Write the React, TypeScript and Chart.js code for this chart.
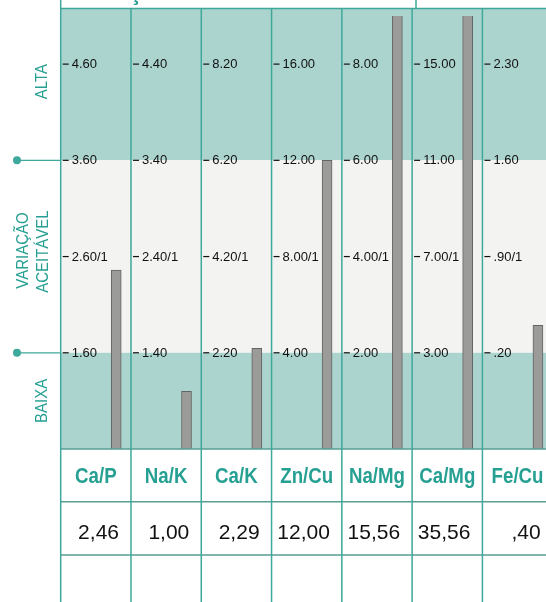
import React, { useEffect, useRef } from "react";
import { Chart, registerables } from "chart.js";

Chart.register(...registerables);

// ---- data ----
const ratios = ["Ca/P", "Na/K", "Ca/K", "Zn/Cu", "Na/Mg", "Ca/Mg", "Fe/Cu"];
const values = [2.46, 1.0, 2.29, 12.0, 15.56, 35.56, 0.4];
const highTicks = [4.6, 4.4, 8.2, 16.0, 8.0, 15.0, 2.3];
const upperTicks = [3.6, 3.4, 6.2, 12.0, 6.0, 11.0, 1.6];
const idealTicks = [2.6, 2.4, 4.2, 8.0, 4.0, 7.0, 0.9];
const lowerTicks = [1.6, 1.4, 2.2, 4.0, 2.0, 3.0, 0.2];
const zoneLabels = ["ALTA", "VARIAÇÃO|ACEITÁVEL", "BAIXA"];
const title = "RELAÇÕES SIGNIFICATIVAS";

// ---- styles ----
const TEAL_TEXT = "rgb(38,160,146)";
const TEAL_LINE = "rgb(62,168,155)";
const TABLE_LINE = "rgb(88,158,148)";
const BAND = "rgb(172,212,207)";
const MID = "rgb(243,243,241)";
const FONT = "'Liberation Sans', Arial, Helvetica, sans-serif";

const fmtTick = (v: number) => v.toFixed(2).replace(/^0\./, ".");
const fmtValue = (v: number) => v.toFixed(2).replace(/^0\./, ".").replace(".", ",");

function scaledText(
  ctx: CanvasRenderingContext2D,
  text: string,
  x: number,
  y: number,
  sx: number,
  align: CanvasTextAlign,
  rotate = 0
) {
  ctx.save();
  ctx.translate(x, y);
  if (rotate) ctx.rotate(rotate);
  ctx.scale(sx, 1);
  ctx.textAlign = align;
  ctx.fillText(text, 0, 0);
  ctx.restore();
}

const panelPlugin = {
  id: "panel",
  beforeDraw(chart: any) {
    const { ctx, chartArea, scales } = chart;
    const xs = scales.x;
    ctx.save();
    ctx.fillStyle = "#ffffff";
    ctx.fillRect(0, 0, chart.width, chart.height);
    const top = chartArea.top - 7;
    ratios.forEach((_, i) => {
      const ys = scales["y" + i];
      const xl = xs.getPixelForValue(i);
      const xr = xs.getPixelForValue(i + 1);
      const yU = ys.getPixelForValue(upperTicks[i]);
      const yL = ys.getPixelForValue(lowerTicks[i]);
      ctx.fillStyle = BAND;
      ctx.fillRect(xl, top, xr - xl, yU - top);
      ctx.fillStyle = MID;
      ctx.fillRect(xl, yU, xr - xl, yL - yU);
      ctx.fillStyle = BAND;
      ctx.fillRect(xl, yL, xr - xl, chartArea.bottom - yL);
    });
    ctx.restore();
  },
  afterDraw(chart: any) {
    const { ctx, chartArea, scales } = chart;
    const xs = scales.x;
    const top = chartArea.top - 7;
    const W = chart.width;
    const H = chart.height;
    const bottom = chartArea.bottom;
    const row1 = bottom + 52.7;
    const row2 = bottom + 106;
    ctx.save();

    // title strip (cropped at the top of the page)
    ctx.save();
    ctx.beginPath();
    ctx.rect(chartArea.left, 0, 416 - chartArea.left, top - 1);
    ctx.clip();
    ctx.fillStyle = TEAL_TEXT;
    ctx.font = `bold 22px ${FONT}`;
    ctx.textAlign = "left";
    ctx.textBaseline = "alphabetic";
    ctx.fillText(title, chartArea.left + 7, -0.5);
    ctx.restore();

    ctx.strokeStyle = TEAL_LINE;
    ctx.lineWidth = 1.5;
    ctx.beginPath();
    ctx.moveTo(chartArea.left, top - 0.5);
    ctx.lineTo(W, top - 0.5);
    ctx.moveTo(416, 0);
    ctx.lineTo(416, top);
    ctx.stroke();

    // table horizontal lines
    ctx.strokeStyle = TABLE_LINE;
    ctx.lineWidth = 1.5;
    ctx.beginPath();
    [bottom, row1, row2].forEach((y) => {
      ctx.moveTo(chartArea.left, y);
      ctx.lineTo(W, y);
    });
    ctx.stroke();

    // column lines
    ctx.strokeStyle = TEAL_LINE;
    ctx.lineWidth = 1.5;
    ctx.beginPath();
    for (let i = 0; i <= ratios.length; i++) {
      const x = xs.getPixelForValue(i);
      ctx.moveTo(x, i === 0 ? 0 : top);
      ctx.lineTo(x, H);
    }
    ctx.stroke();

    // tick labels per column
    ctx.fillStyle = "#111111";
    ctx.strokeStyle = "#111111";
    ctx.font = `13px ${FONT}`;
    ctx.textBaseline = "middle";
    ctx.textAlign = "left";
    ratios.forEach((_, i) => {
      const ys = scales["y" + i];
      const xl = xs.getPixelForValue(i);
      const ticks = [
        [highTicks[i], fmtTick(highTicks[i])],
        [upperTicks[i], fmtTick(upperTicks[i])],
        [idealTicks[i], fmtTick(idealTicks[i]) + "/1"],
        [lowerTicks[i], fmtTick(lowerTicks[i])],
      ] as [number, string][];
      ticks.forEach(([v, label]) => {
        const y = ys.getPixelForValue(v);
        ctx.lineWidth = 1.2;
        ctx.beginPath();
        ctx.moveTo(xl + 2, y);
        ctx.lineTo(xl + 8, y);
        ctx.stroke();
        ctx.fillText(label, xl + 11, y + 0.5);
      });
    });

    // table header and values
    ratios.forEach((r, i) => {
      const xl = xs.getPixelForValue(i);
      const xr = xs.getPixelForValue(i + 1);
      ctx.fillStyle = TEAL_TEXT;
      ctx.font = `bold 22px ${FONT}`;
      ctx.textBaseline = "middle";
      scaledText(ctx, r, (xl + xr) / 2, bottom + 28, 0.85, "center");
      ctx.fillStyle = "#111111";
      ctx.font = `21px ${FONT}`;
      scaledText(ctx, fmtValue(values[i]), xr - 12, bottom + 84, 1, "right");
    });

    // left zone labels and markers
    const ys0 = scales.y0;
    const yU = ys0.getPixelForValue(upperTicks[0]);
    const yL = ys0.getPixelForValue(lowerTicks[0]);
    ctx.strokeStyle = TEAL_LINE;
    ctx.fillStyle = TEAL_LINE;
    ctx.lineWidth = 1.2;
    [yU, yL].forEach((y) => {
      ctx.beginPath();
      ctx.moveTo(17, y);
      ctx.lineTo(chartArea.left, y);
      ctx.stroke();
      ctx.beginPath();
      ctx.arc(17, y, 4, 0, Math.PI * 2);
      ctx.fill();
    });
    ctx.fillStyle = TEAL_TEXT;
    ctx.font = `17px ${FONT}`;
    ctx.textBaseline = "middle";
    const rot = -Math.PI / 2;
    scaledText(ctx, zoneLabels[0], 42, (top + yU) / 2 - 3, 0.88, "center", rot);
    const [l1, l2] = zoneLabels[1].split("|");
    scaledText(ctx, l1, 23, (yU + yL) / 2 - 6, 0.88, "center", rot);
    scaledText(ctx, l2, 43, (yU + yL) / 2 - 5, 0.88, "center", rot);
    scaledText(ctx, zoneLabels[2], 42, (yL + bottom) / 2, 0.88, "center", rot);

    ctx.restore();
  },
};

export default function App() {
  const ref = useRef<HTMLCanvasElement>(null);
  useEffect(() => {
    if (!ref.current) return;
    const steps = idealTicks.map((v, i) => v - lowerTicks[i]);
    const scales: any = {
      x: {
        type: "linear",
        min: 0,
        max: ratios.length,
        offset: false,
        grid: { offset: false },
        display: false,
      },
    };
    ratios.forEach((_, i) => {
      scales["y" + i] = {
        type: "linear",
        display: false,
        min: lowerTicks[i] - steps[i],
        max: lowerTicks[i] + 3.5 * steps[i],
      };
    });
    const datasets = ratios.map((r, i) => ({
      label: r,
      data: [{ x: i + 0.79, y: values[i] }],
      xAxisID: "x",
      yAxisID: "y" + i,
      base: lowerTicks[i] - steps[i],
      backgroundColor: "rgb(155,155,153)",
      borderColor: "rgb(100,100,100)",
      borderWidth: 1,
      barThickness: 10,
      grouped: false,
      clip: 0,
    }));
    const chart = new Chart(ref.current, {
      type: "bar",
      data: { datasets } as any,
      options: {
        responsive: false,
        animation: false,
        devicePixelRatio: 1,
        layout: { padding: { left: 60.7, right: 7.3, top: 16, bottom: 153 } },
        scales,
        plugins: {
          legend: { display: false },
          tooltip: { enabled: false },
        },
      } as any,
      plugins: [panelPlugin],
    });
    return () => chart.destroy();
  }, []);
  return (
    <div
      style={{
        position: "fixed",
        left: 0,
        top: 0,
        width: 546,
        height: 602,
        overflow: "hidden",
        background: "#ffffff",
      }}
    >
      <canvas ref={ref} width={560} height={602} style={{ display: "block" }} />
    </div>
  );
}
